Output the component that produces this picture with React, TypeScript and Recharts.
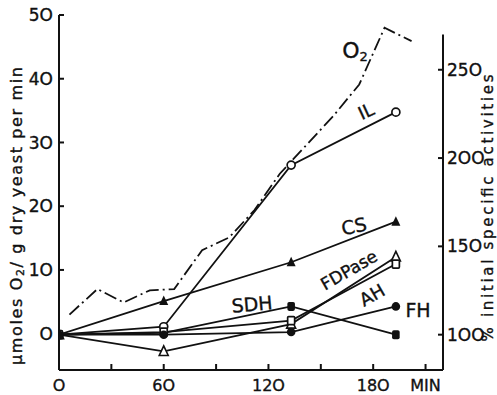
import {
  Customized,
  Line,
  LineChart,
  ReferenceLine,
  XAxis,
  YAxis
} from "recharts";

// O2 uptake curve (min, umol O2 / g dry yeast per min)
const oxyMin = [6, 22, 37, 52, 66, 82, 97.5, 112, 126.5, 157, 172, 186.5, 202];
const oxyRate = [3.0, 7.0, 4.9, 6.8, 7.0, 13.1, 15.1, 19.4, 25.1, 34.1, 39.1, 48.0, 45.9];

// enzyme activities, % of initial
const enzymeMin = [0, 60, 133, 193];
const ilPct = [100, 104.5, 196, 226];
const csPct = [100, 119, 141, 164];
const sdhPct = [100, 101, 116, 100];
const fdpasePct = [100, 90.5, 106, 144];
const ahPct = [100, 101.5, 108, 140];
const fhPct = [100, 100, 101.5, 116];

const xTicks = [0, 30, 60, 90, 120, 150, 180, 210];
const xTickLabels = ["O", "", "6O", "", "12O", "", "18O", "MIN"];
const leftTicks = [0, 10, 20, 30, 40, 50];
const leftTickLabels = ["O", "1O", "2O", "3O", "4O", "5O"];
const rightTicks = [100, 150, 200, 250];
const rightTickLabels = ["1OO", "15O", "2OO", "25O"];

const FONT = "DejaVu Sans";
const INK = "#111";
const LW = 1.8;

const oxyData = oxyMin.map((t, i) => ({ t, v: oxyRate[i] }));
const series = (vals: number[]) => enzymeMin.map((t, i) => ({ t, v: vals[i] }));

const OpenCircle = (p: any) => (
  <circle key={"oc" + p.index} cx={p.cx} cy={p.cy} r={4} fill="#fff" stroke={INK} strokeWidth={1.7} />
);
const FilledCircle = (p: any) => <circle key={"fc" + p.index} cx={p.cx} cy={p.cy} r={4.3} fill={INK} />;
const triPath = (cx: number, cy: number) => `M${cx},${cy - 5.5} L${cx - 4.5},${cy + 4} L${cx + 4.5},${cy + 4} Z`;
const FilledTri = (p: any) => <path key={"ft" + p.index} d={triPath(p.cx, p.cy)} fill={INK} />;
const OpenTri = (p: any) => (
  <path key={"ot" + p.index} d={triPath(p.cx, p.cy)} fill="#fff" stroke={INK} strokeWidth={1.6} />
);
const FilledSq = (p: any) => (
  <rect key={"fs" + p.index} x={p.cx - 3.8} y={p.cy - 4.5} width={7.6} height={9} rx={1.8} fill={INK} />
);
const OpenSq = (p: any) => (
  <rect key={"os" + p.index} x={p.cx - 3.5} y={p.cy - 4} width={7} height={8} rx={1} fill="#fff" stroke={INK} strokeWidth={1.7} />
);

const txt = { fontFamily: FONT, fill: INK, stroke: INK, strokeWidth: 0.35 };

const LeftTick = ({ x, y, payload }: any) => {
  const i = leftTicks.indexOf(payload.value);
  return (
    <g>
      <line x1={x} x2={x + 5} y1={y} y2={y} stroke={INK} strokeWidth={2} />
      <text x={x - 6} y={y} dy="0.36em" textAnchor="end" fontSize={17} {...txt}>
        {leftTickLabels[i]}
      </text>
    </g>
  );
};

const RightTick = ({ x, y, payload }: any) => {
  const i = rightTicks.indexOf(payload.value);
  return (
    <g>
      <line x1={x} x2={x - 5} y1={y} y2={y} stroke={INK} strokeWidth={2} />
      <text x={x + 4} y={y} dy="0.36em" textAnchor="start" fontSize={17} {...txt}>
        {rightTickLabels[i]}
      </text>
    </g>
  );
};

const BottomTick = ({ x, y, payload }: any) => {
  const i = xTicks.indexOf(payload.value);
  return (
    <g>
      {i > 0 && <line x1={x} x2={x} y1={y} y2={y - 6} stroke={INK} strokeWidth={2} />}
      <text x={x} y={y + 15} dy="0.36em" textAnchor="middle" fontSize={16} {...txt}>
        {xTickLabels[i]}
      </text>
    </g>
  );
};

const lbl = (x: number, y: number, rot: number, s: string, size = 19) => (
  <text
    x={x}
    y={y}
    textAnchor="middle"
    dominantBaseline="central"
    fontSize={size}
    {...txt}
    transform={`rotate(${rot} ${x} ${y})`}
  >
    {s}
  </text>
);

const Annotations = () => (
  <g>
    <text
      x={16}
      y={216}
      textAnchor="middle"
      dominantBaseline="central"
      fontSize={16}
      {...txt}
      textLength={298}
      lengthAdjust="spacing"
      transform="rotate(-90 16 216)"
    >
      μmoles O<tspan fontSize={11} dy={4}>2</tspan><tspan dy={-4}>/ g dry yeast per min</tspan>
    </text>
    <text
      x={488}
      y={208}
      textAnchor="middle"
      dominantBaseline="central"
      fontSize={15}
      {...txt}
      textLength={267}
      lengthAdjust="spacing"
      transform="rotate(-90 488 208)"
    >
      % initial specific activities
    </text>
    <text x={355} y={58} textAnchor="middle" fontSize={22} {...txt}>
      O<tspan fontSize={13} dy={3}>2</tspan>
    </text>
    {lbl(366, 111, -25, "IL", 18)}
    {lbl(354, 226, -12, "CS")}
    {lbl(349, 270, -30, "FDPase", 17)}
    {lbl(372, 295, -30, "AH", 18)}
    {lbl(252, 304, -5, "SDH")}
    {lbl(418, 310, 0, "FH")}
  </g>
);

export default function App() {
  return (
    <div style={{ position: "absolute", left: 0, top: 0, background: "#fff" }}>
      <LineChart width={497} height={395} margin={{ top: 15, right: 14, left: 19, bottom: 0 }}>
        <XAxis
          dataKey="t"
          type="number"
          domain={[0, 220]}
          ticks={xTicks}
          interval={0}
          height={25}
          tickSize={0}
          tickMargin={0}
          tickLine={false}
          tick={BottomTick}
          axisLine={{ stroke: INK, strokeWidth: 2 }}
          allowDataOverflow
        />
        <YAxis
          yAxisId="left"
          orientation="left"
          domain={[-5.7, 50]}
          ticks={leftTicks}
          interval={0}
          width={40}
          tickSize={0}
          tickMargin={0}
          tickLine={false}
          tick={LeftTick}
          axisLine={{ stroke: INK, strokeWidth: 2 }}
          allowDataOverflow
        />
        <YAxis
          yAxisId="right"
          orientation="right"
          domain={[80, 281]}
          ticks={rightTicks}
          interval={0}
          width={40}
          tickSize={0}
          tickMargin={0}
          tickLine={false}
          tick={RightTick}
          axisLine={false}
          allowDataOverflow
        />
        <ReferenceLine
          yAxisId="right"
          segment={[{ x: 220, y: 80 }, { x: 220, y: 270 }]}
          stroke={INK}
          strokeWidth={2}
          ifOverflow="visible"
        />
        <Line
          yAxisId="left"
          data={oxyData}
          dataKey="v"
          type="linear"
          stroke={INK}
          strokeWidth={LW}
          strokeDasharray="13 4 2 4"
          dot={false}
          isAnimationActive={false}
        />
        <Line yAxisId="right" data={series(ilPct)} dataKey="v" stroke={INK} strokeWidth={LW} dot={OpenCircle} isAnimationActive={false} />
        <Line yAxisId="right" data={series(csPct)} dataKey="v" stroke={INK} strokeWidth={LW} dot={FilledTri} isAnimationActive={false} />
        <Line yAxisId="right" data={series(sdhPct)} dataKey="v" stroke={INK} strokeWidth={LW} dot={FilledSq} isAnimationActive={false} />
        <Line yAxisId="right" data={series(fdpasePct)} dataKey="v" stroke={INK} strokeWidth={LW} dot={OpenTri} isAnimationActive={false} />
        <Line yAxisId="right" data={series(ahPct)} dataKey="v" stroke={INK} strokeWidth={LW} dot={OpenSq} isAnimationActive={false} />
        <Line yAxisId="right" data={series(fhPct)} dataKey="v" stroke={INK} strokeWidth={LW} dot={FilledCircle} isAnimationActive={false} />
        <Customized component={Annotations} />
      </LineChart>
    </div>
  );
}
